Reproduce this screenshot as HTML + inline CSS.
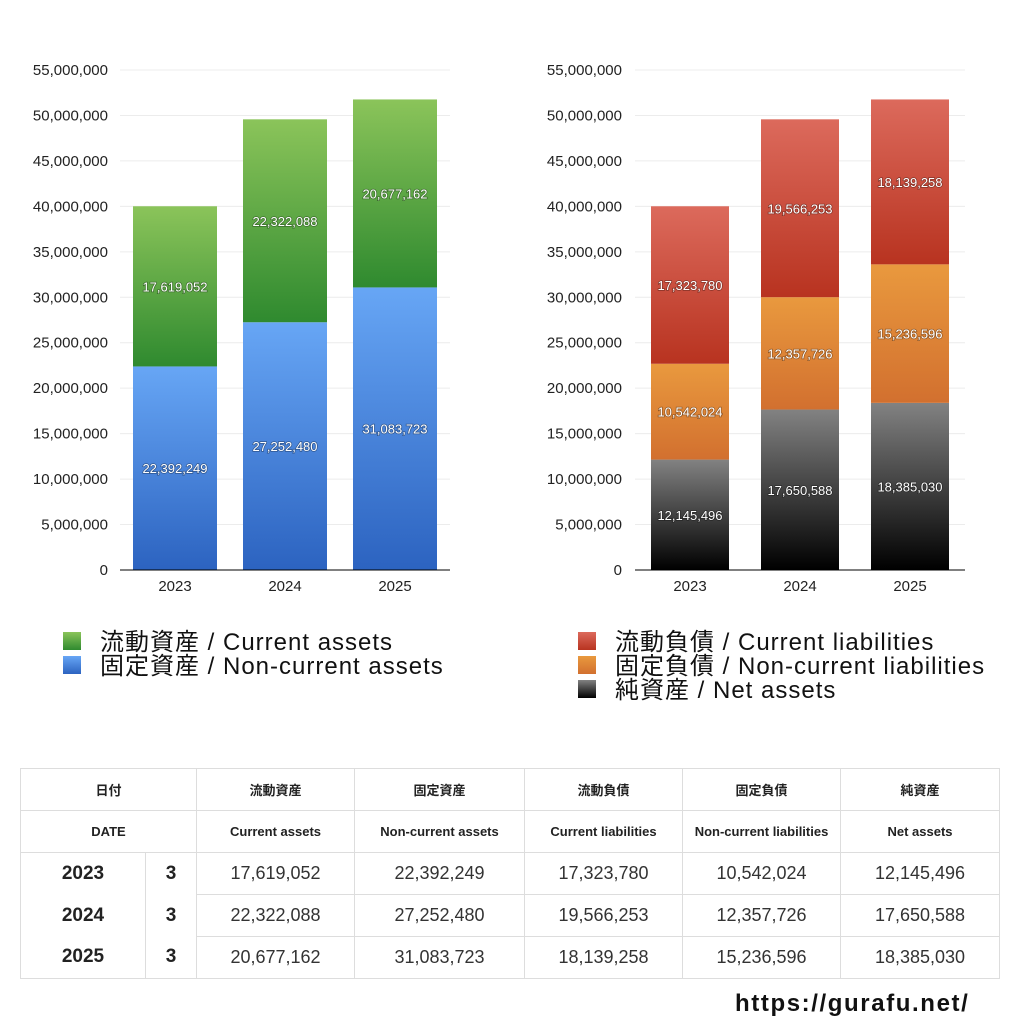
<!DOCTYPE html>
<html><head><meta charset="utf-8">
<style>
body{margin:0;background:#fff;width:1024px;height:1024px;overflow:hidden;font-family:"Liberation Sans","Noto Sans CJK JP",sans-serif;}
svg text{font-family:"Liberation Sans","Noto Sans CJK JP",sans-serif;}
table{position:absolute;left:20px;top:768px;border-collapse:collapse;width:980px;table-layout:fixed;}
td{border:1px solid #ddd;height:41px;text-align:center;padding:0;color:#222;white-space:nowrap;}
.h{font-size:13px;font-weight:bold;}
.y{font-size:19px;font-weight:bold;}
.v{font-size:18px;color:#333;}
#wm{position:absolute;left:735px;top:990px;font-size:24px;font-weight:bold;color:#111;letter-spacing:1.6px;}
</style></head><body>
<svg id="chart" width="1024" height="740" style="position:absolute;left:0;top:0">
<defs>
<linearGradient id="gGreen" x1="0" y1="0" x2="0" y2="1"><stop offset="0" stop-color="#8bc45a"/><stop offset="1" stop-color="#2f8a2f"/></linearGradient>
<linearGradient id="gBlue" x1="0" y1="0" x2="0" y2="1"><stop offset="0" stop-color="#67a6f5"/><stop offset="1" stop-color="#2c63c0"/></linearGradient>
<linearGradient id="gRed" x1="0" y1="0" x2="0" y2="1"><stop offset="0" stop-color="#dc6a5c"/><stop offset="1" stop-color="#b83320"/></linearGradient>
<linearGradient id="gOrange" x1="0" y1="0" x2="0" y2="1"><stop offset="0" stop-color="#e9993e"/><stop offset="1" stop-color="#d2702f"/></linearGradient>
<linearGradient id="gBlack" x1="0" y1="0" x2="0" y2="1"><stop offset="0" stop-color="#828282"/><stop offset="1" stop-color="#000"/></linearGradient>
</defs>
</svg>
<table>
<colgroup><col style="width:125px"><col style="width:51px"><col style="width:158px"><col style="width:170px"><col style="width:158px"><col style="width:158px"><col style="width:159px"></colgroup>
<tr class="h"><td colspan="2">日付</td><td>流動資産</td><td>固定資産</td><td>流動負債</td><td>固定負債</td><td>純資産</td></tr>
<tr class="h"><td colspan="2">DATE</td><td>Current assets</td><td>Non-current assets</td><td>Current liabilities</td><td>Non-current liabilities</td><td>Net assets</td></tr>
<tr><td class="y" style="border-bottom:none">2023</td><td class="y" style="border-bottom:none">3</td><td class="v">17,619,052</td><td class="v">22,392,249</td><td class="v">17,323,780</td><td class="v">10,542,024</td><td class="v">12,145,496</td></tr>
<tr><td class="y" style="border-top:none;border-bottom:none">2024</td><td class="y" style="border-top:none;border-bottom:none">3</td><td class="v">22,322,088</td><td class="v">27,252,480</td><td class="v">19,566,253</td><td class="v">12,357,726</td><td class="v">17,650,588</td></tr>
<tr><td class="y" style="border-top:none">2025</td><td class="y" style="border-top:none">3</td><td class="v">20,677,162</td><td class="v">31,083,723</td><td class="v">18,139,258</td><td class="v">15,236,596</td><td class="v">18,385,030</td></tr>
</table>
<div id="wm">https://gurafu.net/</div>
<script>
const categories=["2023","2024","2025"];
const currentAssets=[17619052,22322088,20677162];
const nonCurrentAssets=[22392249,27252480,31083723];
const currentLiab=[17323780,19566253,18139258];
const nonCurrentLiab=[10542024,12357726,15236596];
const netAssets=[12145496,17650588,18385030];
const yTicks=[0,5e6,10e6,15e6,20e6,25e6,30e6,35e6,40e6,45e6,50e6,55e6];
const NS="http://www.w3.org/2000/svg";
const svg=document.getElementById('chart');
const y0=570,yTop=70,yMax=55e6;
const yS=v=>y0-(v/yMax)*(y0-yTop);
function mk(t,a,txt){const e=document.createElementNS(NS,t);for(const k in a)e.setAttribute(k,a[k]);if(txt!==undefined)e.textContent=txt;svg.appendChild(e);return e;}
const fmt=v=>v.toLocaleString('en-US');
function chart(px,pw,labelX,bx0,bw,stacks,name){
  yTicks.forEach(t=>{
    const g=mk('line',{x1:px,x2:px+pw,y1:yS(t),y2:yS(t),stroke:'#ececec'});
    
    
    const l=mk('text',{x:labelX,y:yS(t)+5,'text-anchor':'end','font-size':15,fill:'#222'},t===0?'0':fmt(t));
    
    
  });
  categories.forEach((c,i)=>{
    const x=bx0+i*110;
    let base=0;
    stacks.forEach(s=>{
      const v=s.data[i];
      const r=mk('rect',{x:x,y:yS(base+v),width:bw,height:yS(base)-yS(base+v),fill:'url(#'+s.grad+')'});
      
      
      const ty=(yS(base)+yS(base+v))/2+5;
      const t=mk('text',{x:x+bw/2,y:ty,'text-anchor':'middle','font-size':13,fill:'#fff',style:'paint-order:stroke',stroke:'rgba(0,0,0,0.35)','stroke-width':1.5},fmt(v));
      
      
      base+=v;
    });
    const xl=mk('text',{x:x+bw/2,y:591,'text-anchor':'middle','font-size':15,fill:'#222'},c);
    
    
  });
  const ax=mk('line',{x1:px,x2:px+pw,y1:y0,y2:y0,stroke:'#000'});
  
  
}
chart(120,330,108,133,84,[{data:nonCurrentAssets,grad:'gBlue',key:'noncurrent'},{data:currentAssets,grad:'gGreen',key:'current'}],'assets');
chart(635,330,622,651,78,[{data:netAssets,grad:'gBlack',key:'net'},{data:nonCurrentLiab,grad:'gOrange',key:'noncurrent-liab'},{data:currentLiab,grad:'gRed',key:'current-liab'}],'liabilities');
const legends=[
 [63,632,'gGreen','流動資産 / Current assets'],
 [63,656,'gBlue','固定資産 / Non-current assets'],
 [578,632,'gRed','流動負債 / Current liabilities'],
 [578,656,'gOrange','固定負債 / Non-current liabilities'],
 [578,680,'gBlack','純資産 / Net assets']];
legends.forEach(l=>{
  const r=mk('rect',{x:l[0],y:l[1],width:18,height:18,fill:'url(#'+l[2]+')'});
  
  
  const t=mk('text',{x:l[0]+37,y:l[1]+18,'font-size':24,fill:'#111','letter-spacing':1},l[3]);
  
  
});
</script>
</body></html>
